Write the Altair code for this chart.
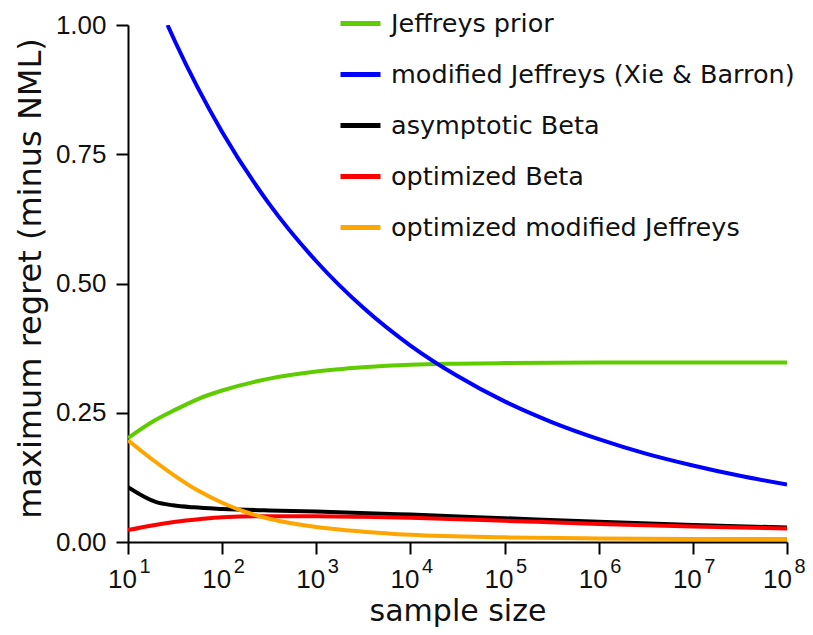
import altair as alt
import pandas as pd

series_names = [
    "Jeffreys prior",
    "modified Jeffreys (Xie & Barron)",
    "asymptotic Beta",
    "optimized Beta",
    "optimized modified Jeffreys",
]
series_colors = ["#5fcc00", "#0000ff", "#000000", "#ff0000", "#ffa500"]

# Jeffreys prior
jeff_n = [10, 18, 32, 56, 100, 316, 1000, 3162, 1e4, 31623, 1e5, 1e6, 1e7, 1e8]
jeff_v = [0.201, 0.232, 0.256, 0.277, 0.293, 0.316, 0.330, 0.338, 0.343, 0.345, 0.346, 0.347, 0.347, 0.347]

# modified Jeffreys (Xie & Barron)
mj_n = [26.3, 31.6, 100, 316, 1000, 3162, 1e4, 31623, 1e5, 316228, 1e6, 3162278, 1e7, 31622777, 1e8]
mj_v = [1.0, 0.968, 0.793, 0.654, 0.543, 0.453, 0.380, 0.321, 0.272, 0.232, 0.199, 0.171, 0.148, 0.128, 0.111]

# asymptotic Beta
ab_n = [10, 20, 30, 50, 100, 316, 1000, 1e4, 1e5, 1e6, 1e7, 1e8]
ab_v = [0.106, 0.077, 0.071, 0.067, 0.064, 0.061, 0.059, 0.053, 0.046, 0.039, 0.033, 0.028]

# optimized Beta
ob_n = [10, 18, 32, 56, 100, 316, 1000, 3162, 1e4, 1e5, 1e6, 1e7, 1e8]
ob_v = [0.023, 0.032, 0.039, 0.044, 0.048, 0.050, 0.050, 0.049, 0.047, 0.041, 0.035, 0.030, 0.026]

# optimized modified Jeffreys
omj_n = [10, 18, 32, 56, 100, 178, 316, 1000, 3162, 1e4, 1e5, 1e6, 1e7, 1e8]
omj_v = [0.197, 0.16, 0.127, 0.099, 0.076, 0.058, 0.045, 0.029, 0.020, 0.014, 0.009, 0.007, 0.006, 0.006]

x_ticks = [10, 100, 1000, 1e4, 1e5, 1e6, 1e7, 1e8]
y_ticks = [0, 0.25, 0.5, 0.75, 1.0]

all_n = [jeff_n, mj_n, ab_n, ob_n, omj_n]
all_v = [jeff_v, mj_v, ab_v, ob_v, omj_v]

frames = []
for name, ns, vs in zip(series_names, all_n, all_v):
    frames.append(pd.DataFrame({"n": ns, "regret": vs, "series": name}))
df = pd.concat(frames, ignore_index=True)

color_scale = alt.Scale(domain=series_names, range=series_colors)
x_scale = alt.Scale(type="log", domain=[10, 1e8], nice=False)

main_x_axis = alt.Axis(
    orient="bottom",
    values=x_ticks,
    labelExpr="'10'",
    labelAlign="center",
    labelBaseline="alphabetic",
    labelOffset={"condition": {"test": "datum.value >= 1e8", "value": -10}, "value": -6},
    labelPadding=33,
    title="sample size",
    titleY=78,
    titleBaseline="alphabetic",
    titleFontSize=30,
)
exp_x_axis = alt.Axis(
    orient="bottom",
    values=x_ticks,
    labelExpr="round(log(datum.value)/LN10)",
    labelAlign="left",
    labelBaseline="alphabetic",
    labelOffset={"condition": {"test": "datum.value >= 1e8", "value": 7}, "value": 11},
    labelPadding=30,
    labelFontSize=20,
    domain=False,
    ticks=False,
    title=None,
)

y_enc = alt.Y(
    "regret:Q",
    scale=alt.Scale(domain=[0, 1], nice=False),
    axis=alt.Axis(
        values=y_ticks,
        format=".2f",
        title="maximum regret (minus NML)",
        titleX=-88,
        titleY=253,
        titleBaseline="alphabetic",
        titleFontSize=32,
    ),
)

legend = alt.Legend(
    title=None,
    orient="none",
    legendX=210,
    legendY=-24,
    symbolType="stroke",
    symbolStrokeWidth=5,
    symbolSize=1600,
    labelFont="DejaVu Sans",
    labelFontSize=25.5,
    labelColor="#111111",
    labelOffset=8,
    labelLimit=600,
    rowPadding=15,
    padding=0,
)

layers = []
for i, name in enumerate(series_names):
    layers.append(
        alt.Chart(df)
        .transform_filter(alt.datum.series == name)
        .mark_line(strokeWidth=4, interpolate="monotone", clip=True)
        .encode(
            x=alt.X("n:Q", scale=x_scale, axis=main_x_axis if i == 0 else None),
            y=y_enc,
            color=alt.Color("series:N", scale=color_scale, legend=legend),
        )
    )

# invisible layer carrying the exponent labels of the x axis
layers.append(
    alt.Chart(df)
    .transform_filter(alt.datum.series == series_names[0])
    .mark_line(strokeOpacity=0)
    .encode(
        x=alt.X("n:Q", scale=x_scale, axis=exp_x_axis),
        y=y_enc,
    )
)

chart = (
    alt.layer(*layers)
    .resolve_axis(x="independent")
    .properties(
        width=659,
        height=517,
        padding={"left": 120, "top": 17, "right": 18, "bottom": 85},
        autosize=alt.AutoSizeParams(type="none"),
        background="white",
    )
    .configure_view(stroke=None)
    .configure_axis(
        grid=False,
        domainColor="black",
        domainWidth=2,
        tickColor="black",
        tickWidth=2,
        tickSize=12,
        labelFont="Liberation Sans",
        labelFontSize=26,
        labelColor="#111111",
        titleFont="DejaVu Sans",
        titleFontWeight="normal",
        titleColor="#111111",
    )
    .configure_axisY(labelPadding=10)
)

chart.save("out.html", embed_options={"renderer": "svg", "actions": False})
